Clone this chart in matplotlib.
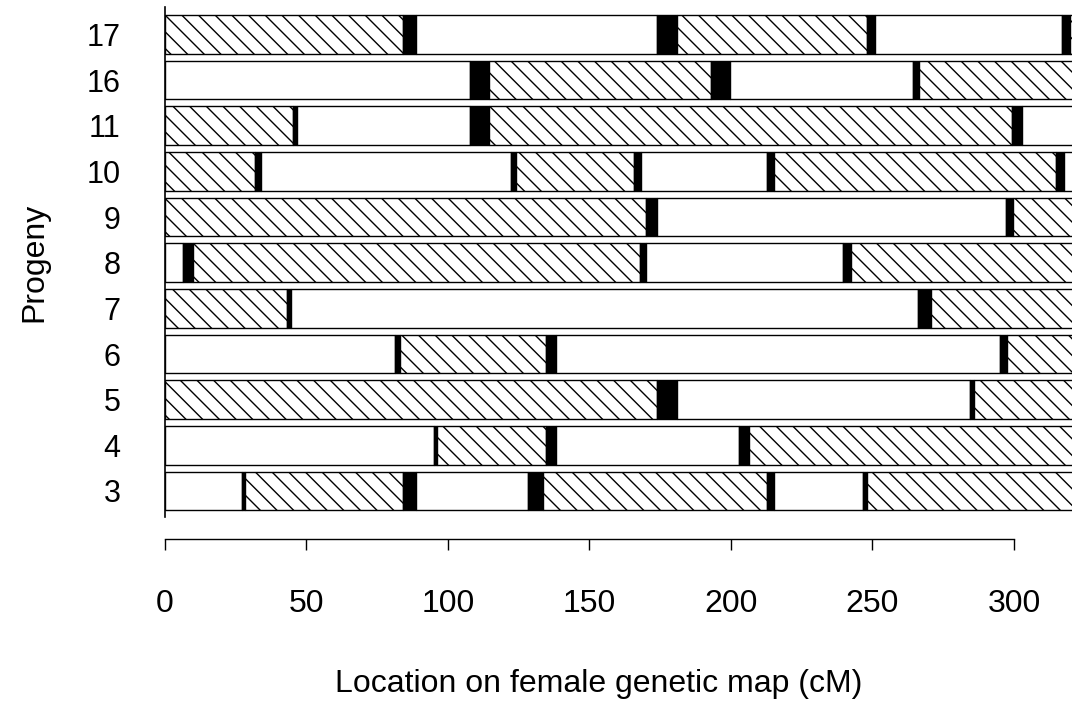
import matplotlib
matplotlib.use("Agg")
import matplotlib.pyplot as plt

plt.rcParams['font.family'] = ['Liberation Sans', 'DejaVu Sans']
plt.rcParams['hatch.linewidth'] = 1.0
plt.rcParams['hatch.color'] = 'black'

# ---- data ----
progeny = ['3', '4', '5', '6', '7', '8', '9', '10', '11', '16', '17']
# does the chromosome start with the hatched parental type?
first_hatched = [False, False, True, False, True, False, True, True, True, False, True]
# crossover intervals (cM) drawn in black
crossovers = [
    [(27.1, 28.4), (84.2, 88.7), (128.3, 133.6), (212.8, 215.1), (246.7, 248.1)],
    [(95.0, 96.2), (134.6, 138.1), (202.9, 206.4)],
    [(173.7, 181.0), (284.4, 285.8)],
    [(81.3, 83.0), (134.6, 138.1), (295.0, 297.6)],
    [(43.2, 44.4), (266.1, 270.6)],
    [(6.2, 10.0), (167.8, 169.9), (239.6, 242.5)],
    [(169.8, 174.0), (297.3, 299.7)],
    [(31.9, 33.8), (122.1, 124.0), (165.7, 168.1), (212.8, 215.3), (314.7, 317.6)],
    [(45.1, 46.6), (107.7, 114.5), (299.3, 303.0)],
    [(107.7, 114.5), (193.1, 199.8), (264.3, 266.5)],
    [(84.2, 88.6), (173.7, 181.0), (247.9, 250.8), (317.1, 319.7)],
]
map_end = 330.0
x_ticks = [0, 50, 100, 150, 200, 250, 300]

# ---- figure ----
fig = plt.figure(figsize=(10.72, 7.05), dpi=100)
ax = fig.add_axes([165 / 1072, 1 - 517 / 705, 1 - 165 / 1072, (517 - 7) / 705])

HATCH = '\\\\'
bar_h = 0.85
for i, (hatched0, xos) in enumerate(zip(first_hatched, crossovers)):
    pos = 0.0
    hatched = hatched0
    for (a, b) in xos:
        ax.barh(i, a - pos, left=pos, height=bar_h, color='white',
                edgecolor='black', linewidth=1.0,
                hatch=HATCH if hatched else None)
        ax.barh(i, b - a, left=a, height=bar_h, color='black',
                edgecolor='black', linewidth=1.0)
        pos = b
        hatched = not hatched
    ax.barh(i, map_end - pos, left=pos, height=bar_h, color='white',
            edgecolor='black', linewidth=1.0,
            hatch=HATCH if hatched else None)

ax.set_xlim(0, (1072 - 165) / (1014 - 165) * 300)
ax.set_ylim(-0.57, len(progeny) - 1 + 0.6)

ax.set_yticks(range(len(progeny)))
ax.set_yticklabels(progeny)
ax.tick_params(axis='y', length=0, pad=32, labelsize=22)

ax.set_xticks(x_ticks)
ax.set_xticklabels([str(t) for t in x_ticks])
ax.tick_params(axis='x', direction='out', length=8, width=1, pad=28, labelsize=23)

ax.spines['top'].set_visible(False)
ax.spines['right'].set_visible(False)
ax.spines['bottom'].set_position(('outward', 16))
ax.spines['bottom'].set_bounds(0, 300)
ax.spines['left'].set_linewidth(1.2)
ax.spines['bottom'].set_linewidth(1)

ax.set_xlabel('Location on female genetic map (cM)', fontsize=23, labelpad=36)
ax.xaxis.label.set_x((599 - 165) / 907)
ax.set_ylabel('Progeny', fontsize=23, labelpad=27)

fig.savefig('out.png', dpi=100)
